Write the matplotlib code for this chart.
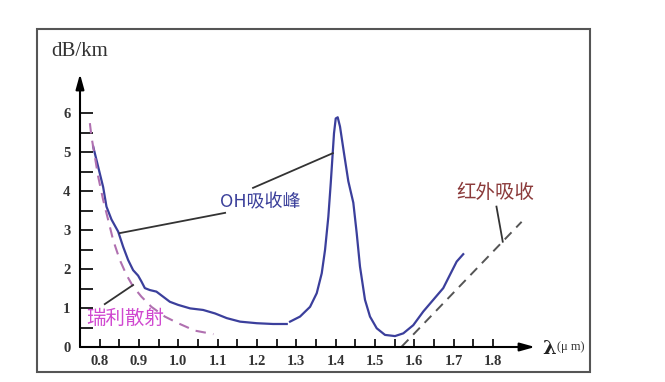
import matplotlib.pyplot as plt
from matplotlib.patches import Rectangle

# total loss curve (blue), split at the small gap near 1.28 um
loss_x1 = [0.7835, 0.7962, 0.8089, 0.8173, 0.830, 0.847, 0.8597, 0.8724, 0.8851, 0.8978,
           0.9062, 0.9149, 0.9276, 0.9443, 0.9614, 0.9784, 0.9995, 1.030, 1.063, 1.0935,
           1.1233, 1.1571, 1.1995, 1.2409, 1.2757]
loss_y1 = [5.14, 4.62, 4.10, 3.60, 3.27, 2.96, 2.57, 2.23, 1.97, 1.83,
           1.68, 1.51, 1.46, 1.42, 1.29, 1.16, 1.08, 0.99, 0.95, 0.86,
           0.74, 0.65, 0.61, 0.59, 0.59]
loss_x2 = [1.2841, 1.3095, 1.335, 1.352, 1.3647, 1.3731, 1.3815, 1.3876, 1.3926, 1.3959,
           1.4003, 1.4053, 1.4112, 1.4213, 1.4323, 1.445, 1.4536, 1.462, 1.4747, 1.4874,
           1.5045, 1.5256, 1.551, 1.5721, 1.5975, 1.6229, 1.6483, 1.6737, 1.6907, 1.7078,
           1.7245]
loss_y2 = [0.65, 0.78, 1.03, 1.38, 1.89, 2.49, 3.34, 4.20, 4.97, 5.48,
           5.86, 5.89, 5.65, 4.97, 4.25, 3.70, 2.92, 2.06, 1.21, 0.78,
           0.48, 0.31, 0.28, 0.35, 0.56, 0.91, 1.21, 1.51, 1.85, 2.19,
           2.38]

# Rayleigh scattering (dashed)
ray_x = [0.7751, 0.7792, 0.7878, 0.7962, 0.8089, 0.8216, 0.8343, 0.8513, 0.8681, 0.8851,
         0.9062, 0.9316, 0.9657, 0.9995, 1.0419, 1.0892]
ray_y = [5.74, 5.39, 4.88, 4.37, 3.77, 3.26, 2.74, 2.23, 1.85, 1.55,
         1.29, 1.03, 0.78, 0.61, 0.42, 0.33]

# infrared absorption (dashed)
ir_x = [1.568, 1.873]
ir_y = [0.01, 3.21]

x_ticks = [0.8, 0.9, 1.0, 1.1, 1.2, 1.3, 1.4, 1.5, 1.6, 1.7, 1.8]
x_labels = ["0.8", "0.9", "1.0", "1.1", "1.2", "1.3", "1.4", "1.5", "1.6", "1.7", "1.8"]
y_ticks = [0, 1, 2, 3, 4, 5, 6]

cjk = ['Noto Sans CJK SC', 'DejaVu Sans']
serif = 'Liberation Serif'

fig = plt.figure(figsize=(6.65, 3.82), dpi=100)
fig.patches.append(Rectangle((37 / 665, 1 - 372 / 382), 553 / 665, 343 / 382,
                             transform=fig.transFigure, fill=False,
                             edgecolor='#555555', lw=1.5))
ax = fig.add_axes([80 / 665, 1 - 347 / 382, 455 / 665, 273 / 382])
ax.set_xlim(0.75, 1.907)
ax.set_ylim(0, 7.0)
for s in ax.spines.values():
    s.set_visible(False)

ax.annotate('', xy=(1, 0), xytext=(0, 0), xycoords='axes fraction',
            arrowprops=dict(arrowstyle='-|>,head_length=0.9,head_width=0.25',
                            color='black', lw=1.5, shrinkA=0, shrinkB=0))
ax.annotate('', xy=(0, 1), xytext=(0, 0), xycoords='axes fraction',
            arrowprops=dict(arrowstyle='-|>,head_length=0.9,head_width=0.25',
                            color='black', lw=1.5, shrinkA=0, shrinkB=0))

ax.set_xticks(x_ticks)
ax.set_xticklabels(x_labels, fontfamily=serif, fontsize=10.5, color='#333333',
                   fontweight='bold')
ax.set_xticks([t + 0.05 for t in x_ticks[:-1]], minor=True)
ax.set_yticks(y_ticks)
ax.set_yticklabels([str(v) for v in y_ticks], fontfamily=serif, fontsize=10.5,
                   color='#333333', fontweight='bold')
ax.set_yticks([v + 0.5 for v in y_ticks[:-1]], minor=True)
ax.tick_params(axis='x', which='both', direction='in', length=6, width=1.2, pad=6)
ax.tick_params(axis='y', which='both', direction='in', length=9, width=1.2, pad=7)

blue = '#3b3f9c'
ax.plot(loss_x1, loss_y1, color=blue, lw=1.6, clip_on=False)
ax.plot(loss_x2, loss_y2, color=blue, lw=1.6, clip_on=False)
ax.plot(ray_x, ray_y, color='#b070b0', lw=1.5, ls=(0, (5, 3.5)), clip_on=False)
ax.plot(ir_x, ir_y, color='#555555', lw=1.4, ls=(0, (5, 3.5)), clip_on=False)

# leader lines
lead = dict(color='#333333', lw=1.3, clip_on=False)
ax.plot([0.851, 1.119], [2.92, 3.44], **lead)
ax.plot([1.190, 1.393], [4.08, 4.97], **lead)
ax.plot([0.813, 0.885], [1.10, 1.59], **lead)
ax.plot([1.809, 1.825], [3.60, 2.70], **lead)

ax.text(1.208, 3.72, "OH吸收峰", family=cjk, fontsize=13, color='#3a3f9a',
        ha='center', va='center')
ax.text(0.866, 0.74, "瑞利散射", family=cjk, fontsize=14, color='#d048d0',
        ha='center', va='center')
ax.text(1.806, 3.95, "红外吸收", family=cjk, fontsize=14, color='#8b3a3a',
        ha='center', va='center')

fig.text(80 / 665, 1 - 51 / 382, "dB/km", family=serif, fontsize=15,
         color='#333333', ha='center', va='center')
fig.text(542 / 665, 1 - 349 / 382, "λ", family='DejaVu Serif', fontsize=14,
         color='#222222', ha='left', va='center', fontweight='bold')
fig.text(557 / 665, 1 - 347 / 382, "(μ m)", family=serif, fontsize=9,
         color='#333333', ha='left', va='center')

fig.savefig('out.png', dpi=100)
